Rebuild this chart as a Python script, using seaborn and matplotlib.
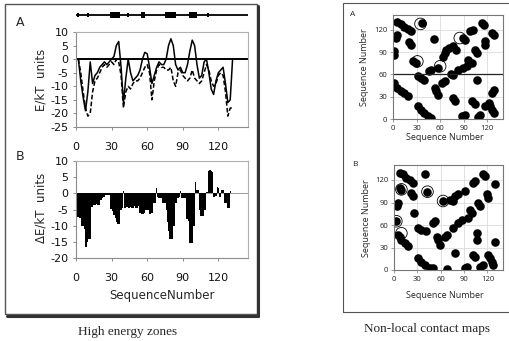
import matplotlib
matplotlib.use("Agg")
import matplotlib.pyplot as plt
from matplotlib.patches import Rectangle
from matplotlib.lines import Line2D
import seaborn as sns
import numpy as np

# ---- data ----
# secondary structure blocks along the sequence (start, end, tall?)
ss_start = [1.0, 9.5, 28.6, 42.8, 55.2, 75.4, 95.0, 110.3]
ss_end = [2.8, 11.3, 37.0, 44.4, 58.5, 84.6, 101.9, 112.0]
ss_big = [0, 0, 1, 0, 1, 1, 1, 0]

# panel A: E/kT profiles (solid = full, dashed = second profile)
energy_pos = np.arange(2, 134, 2)
energy_solid = [0, -8, -14, -19, -12, -1, -9, -6, -5, -3,
                -2, -1, -2, -1, 0, 1, 5, 6.5, -3, -16,
                -7, 0, -5, -8, -7, -6, -4, 0, 2.5, 2,
                -3, -9, -6, -3, -1, -2, -2, 0, 5, 7.5,
                5, -2, -4, -3, -5, -5, -2, 3, 7, 5,
                -2, -7, -6, -1, 0, -5, -11, -13, -8, -5,
                -4, -3, -9, -16, -15, 0]
energy_dashed = [0, -5, -12, -18, -21, -20, -12, -8, -7, -5,
                 -3, -2, -3, -2, -1, -2, 0, -1, -6, -18,
                 -12, -10, -11, -9, -8, -8, -7, -5, -3, -2,
                 -5, -15, -8, -4, -2, -3, -3, -4, -4, -3,
                 -8, -10, -5, -4, -6, -7, -8, -7, -4, -7,
                 -8, -9, -8, -5, -2, -4, -8, -10, -9, -6,
                 -5, -6, -12, -21, -18, -18]

# panel B: per-residue delta E/kT
delta_pos = np.arange(1, 131)
delta_e = [-7.3, -7.3, -7.5, -7.5, -10, -10, -11, -16.7, -16.5, -15,
           -14, -14, -4.2, -4.2, -3.6, -3.6, -3.3, -3.6, -3.6, -3.6,
           -2, -1.5, -1.2, -1, -0.5, -0.5, -0.5, -0.5, -4.7, -4.7,
           -5.5, -6.8, -7.5, -9, -9.4, -9.4, -9.4, -5, -4.5, 0.8,
           -4.5, -4.5, -4.2, -4.5, -4.5, -4.3, -4.5, -4.5, -4, -4.5,
           -4.5, -4.5, -4, -6, -6.3, -6.3, -6.3, -6, -5, -5,
           -5, -6.3, -6.3, -6, -3, -3, -3, 1.5, -1, -1.5,
           -1.5, -1.5, -3, -3, -3, -5, -9, -11.5, -14, -14,
           -14, -10, -10, -3, -3, -1.5, -1, 0.8, -1.5, -1.5,
           -1.5, -1.5, -8, -8, -8.5, -15.5, -15.5, -15.5, -10, -10,
           3.5, 1, 1, -5, -7, -7, -7, -5, -5, 0.5,
           0.5, 7, 7.3, 7, 6.5, -1, -1, -0.8, 2, 1.5,
           -1, -1, 1, 1, -3, -3, -3, -4.5, -4.5, 0.8]

# contact map A
map_a_x = [5.6, 9.9, 14.2, 18.5, 22.8, 36.5, 51.6, 5.6, 3.4, 20.6, 22.8, 1.3, 1.3,
           24.9, 29.0, 57.2, 48.6, 45.6, 89.4, 91.6, 63.6, 65.8, 68.0, 71.4, 76.5,
           80.8, 98.0, 102.3, 113.0, 115.2, 128.0, 126.0, 117.4, 117.4, 104.5,
           106.6, 96.0, 100.2, 93.7, 89.4, 83.0, 76.5, 73.5, 65.8, 62.4, 52.9,
           55.0, 57.2, 31.4, 35.7, 40.0, 1.3, 5.6, 9.9, 14.2, 18.5, 31.4, 35.7,
           40.0, 44.3, 48.6, 87.3, 91.6, 76.5, 78.7, 100.2, 104.5, 106.6, 111.0,
           108.8, 117.4, 121.7, 123.8, 126.0, 128.0, 128.0, 126.0]
map_a_y = [131, 128, 124.5, 121, 118, 129, 107.5, 113, 109, 104, 100, 91, 86.5,
           77.5, 75, 68.5, 66.3, 64, 109, 106.6, 84, 88.7, 93, 95.4, 97.7,
           93, 117.8, 120, 129, 126.8, 113, 115.6, 104.4, 100, 93,
           88.7, 79.7, 75.3, 70.8, 68.5, 66.3, 59.6, 61, 50.6, 48.4, 41.7,
           37.2, 32.7, 57.3, 55.1, 52.9, 48.4, 41.7, 37.2, 35, 30.5, 17, 12.5,
           8.1, 3.6, 1.3, 3.6, 5.8, 28.2, 23.7, 23.7, 20.6, 52, 5.8,
           2.7, 17, 21.5, 17, 12.5, 8.1, 39.4, 35]
ring_a_x = [35, 31, 60, 85]
ring_a_y = [128, 77.5, 71, 109]

# contact map B
map_b_x = [7.3, 11.6, 15.9, 20.2, 24.5, 39.6, 7.3, 9.5, 22.4, 24.5, 5.2, 4.3,
           43.0, 63.2, 71.8, 78.3, 82.6, 76.1, 91.2, 102.0, 104.0, 114.8, 117.0,
           129.9, 119.0, 121.3, 108.4, 110.5, 97.6, 99.8, 95.5, 86.9, 82.6, 76.1,
           67.5, 65.4, 56.8, 58.9, 54.6, 25.8, 50.3, 52.5, 3.0, 5.2, 7.3, 9.5,
           13.8, 18.1, 31.0, 35.3, 41.7, 31.0, 35.3, 39.6, 46.0, 50.3, 67.5,
           78.3, 91.2, 93.3, 102.0, 104.0, 106.2, 106.2, 110.5, 114.8, 121.3,
           123.4, 125.6, 127.7, 129.9]
map_b_y = [130, 127.7, 123, 120, 116.5, 127.7, 109.8, 106.6, 103, 98.6, 89.6, 85,
           104.4, 91.8, 94, 98.6, 100.8, 91.8, 105.3, 116.5, 118.7, 127.7, 125.4,
           114.2, 100.8, 96.3, 89.6, 85, 80.6, 76.2, 69.4, 67.2, 62.7, 56,
           47, 43.9, 40.3, 33.6, 43.9, 76.2, 62.7, 65, 65, 47, 44, 40.3,
           35.8, 31.4, 56, 53.8, 51.5, 15.7, 11.2, 6.7, 2.2, 2.2, 0.9,
           22.4, 2.2, 4.5, 20, 18, 49.3, 40.3, 4.5, 6.7, 20,
           15.7, 11.2, 6.7, 38]
ring_b_x = [9.5, 43, 63, 3, 9.5]
ring_b_y = [107.5, 104.4, 92, 65, 49]

seq_ticks = [0, 30, 60, 90, 120]

# ---- layout helpers (pixel boxes on a 510x341 canvas) ----
W, H = 510, 341


def box(l, t, r, b):
    return [l / W, 1 - b / H, (r - l) / W, (b - t) / H]


def fx(x):
    return x / W


def fy(y):
    return 1 - y / H


sns.set_theme(style="white")
plt.rcParams["font.family"] = ["DejaVu Sans"]
plt.rcParams["axes.unicode_minus"] = False

fig = plt.figure(figsize=(5.1, 3.41), dpi=100)

# outer frames
fig.add_artist(Line2D([fx(258), fx(258)], [fy(6), fy(316)], color="#333", lw=2.2))
fig.add_artist(Line2D([fx(7), fx(258)], [fy(316), fy(316)], color="#333", lw=2.2))
fig.add_artist(Rectangle((fx(5), fy(314)), fx(252) - fx(0), fy(4) - fy(314),
                         fill=False, edgecolor="#555", lw=1.0))
fig.add_artist(Rectangle((fx(343), fy(312)), fx(175), fy(3) - fy(312),
                         fill=False, edgecolor="#555", lw=0.8))

# secondary structure strip
ax_ss = fig.add_axes(box(76, 8, 248, 22))
ax_ss.set_xlim(0, 145)
ax_ss.set_ylim(-1, 1)
ax_ss.axhline(0, color="black", lw=1.3)
for s, e, big in zip(ss_start, ss_end, ss_big):
    hh = 0.42 if big else 0.32
    ax_ss.bar(s, 2 * hh, width=e - s, bottom=-hh, align="edge", color="black",
              linewidth=0)
ax_ss.axis("off")

LEFT_GRAY = "#8c8c8c"


def style_left(ax):
    for sp in ax.spines.values():
        sp.set_color("#b0b0b0")
        sp.set_linewidth(0.8)
    ax.spines["left"].set_color(LEFT_GRAY)
    ax.spines["bottom"].set_color(LEFT_GRAY)
    ax.tick_params(axis="both", direction="out", length=2.5, width=0.7,
                   color=LEFT_GRAY, labelsize=8, labelcolor="#111",
                   left=True, bottom=True)
    ax.tick_params(axis="x", pad=8)
    ax.tick_params(axis="y", pad=3)
    ax.set_xticks(seq_ticks)
    ax.set_xlim(0, 145)
    ax.set_xlabel("")
    ax.set_ylabel("")


# panel A
ax_a = fig.add_axes(box(76, 32, 248, 127))
sns.lineplot(x=energy_pos, y=energy_dashed, ax=ax_a, color="black", lw=1.1,
             linestyle=(0, (3, 1.5)))
sns.lineplot(x=energy_pos, y=energy_solid, ax=ax_a, color="black", lw=1.1)
ax_a.axhline(0, color="black", lw=1.4)
ax_a.set_ylim(-25, 10)
ax_a.set_yticks(np.arange(-25, 11, 5))
style_left(ax_a)

# panel B
ax_b = fig.add_axes(box(76, 161, 248, 258))
ax_b.bar(delta_pos, delta_e, width=1.0, color="black", linewidth=0)
ax_b.axhline(0, color="#9a9a9a", lw=0.7, zorder=0)
ax_b.set_ylim(-20, 10)
ax_b.set_yticks(np.arange(-20, 11, 5))
style_left(ax_b)

fig.text(fx(20), fy(23), "A", fontsize=9, ha="center", va="center")
fig.text(fx(20), fy(157), "B", fontsize=9, ha="center", va="center")
fig.text(fx(41), fy(80), "E/kT  units", fontsize=8.5, rotation=90,
         ha="center", va="center")
fig.text(fx(41), fy(208), "\u0394E/kT  units", fontsize=8.5, rotation=90,
         ha="center", va="center")
fig.text(fx(162), fy(295), "SequenceNumber", fontsize=8.5, ha="center", va="center")


# contact maps
def style_map(ax):
    ax.set_xlim(0, 140)
    ax.set_ylim(0, 140)
    ax.set_xticks(seq_ticks)
    ax.set_yticks(seq_ticks)
    ax.grid(True, color="#d4d4d4", lw=0.5)
    ax.set_axisbelow(True)
    for sp in ax.spines.values():
        sp.set_color("#777")
        sp.set_linewidth(0.8)
    ax.tick_params(axis="both", direction="out", length=2, width=0.5,
                   color="#777", labelsize=5.5, labelcolor="#222", pad=2,
                   left=True, bottom=True)
    ax.set_xlabel("")
    ax.set_ylabel("")
    for lab in ax.get_xticklabels() + ax.get_yticklabels():
        lab.set_family("Open Sans")


ax_ma = fig.add_axes(box(393, 15, 503, 119))
sns.scatterplot(x=map_a_x, y=map_a_y, ax=ax_ma, color="black", s=38, linewidth=0)
ax_ma.scatter(ring_a_x, ring_a_y, s=70, facecolors="none", edgecolors="black", linewidths=0.6)
ax_ma.axhline(60, color="#222", lw=0.9)
style_map(ax_ma)

ax_mb = fig.add_axes(box(394, 165, 503, 270))
sns.scatterplot(x=map_b_x, y=map_b_y, ax=ax_mb, color="black", s=38, linewidth=0)
ax_mb.scatter(ring_b_x, ring_b_y, s=70, facecolors="none", edgecolors="black", linewidths=0.6)
style_map(ax_mb)

mf = ["Open Sans", "DejaVu Sans"]
fig.text(fx(353), fy(15), "A", fontsize=6, family=mf, ha="center", va="center")
fig.text(fx(355), fy(165), "B", fontsize=6, family=mf, ha="center", va="center")
fig.text(fx(445), fy(137), "Sequence Number", fontsize=6.5, family=mf, ha="center", va="center")
fig.text(fx(445), fy(296), "Sequence Number", fontsize=6.5, family=mf, ha="center", va="center")
fig.text(fx(365), fy(67), "Sequence Number", fontsize=6.5, family=mf, rotation=90,
         ha="center", va="center")
fig.text(fx(367), fy(218), "Sequence Number", fontsize=6.5, family=mf, rotation=90,
         ha="center", va="center")

# captions
sf = ["Liberation Serif", "DejaVu Serif"]
fig.text(fx(128), fy(332), "High energy zones", fontsize=9.5, family=sf,
         ha="center", va="center")
fig.text(fx(427), fy(329), "Non-local contact maps", fontsize=9.5, family=sf,
         ha="center", va="center")

fig.savefig("out.png", dpi=100, facecolor="white")
